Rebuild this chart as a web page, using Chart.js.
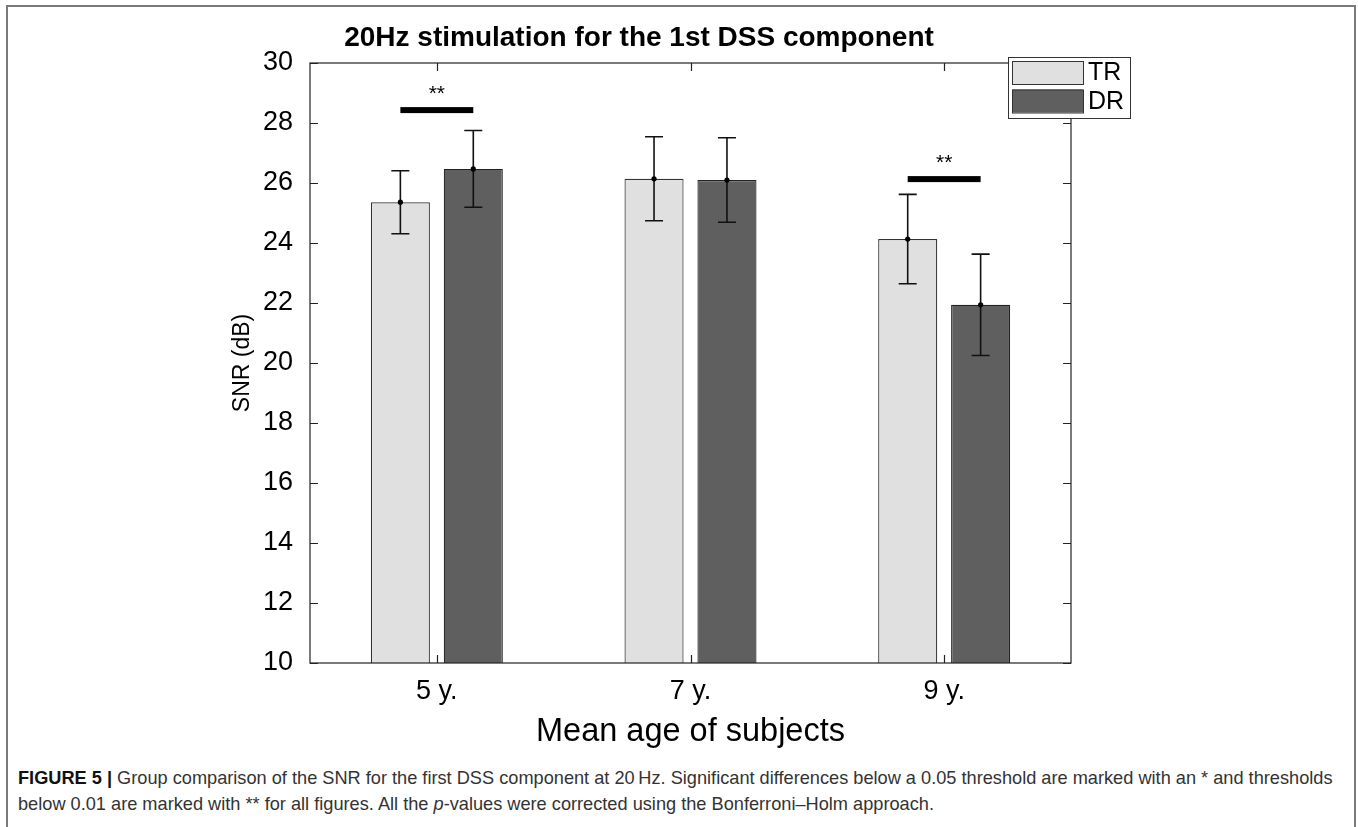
<!DOCTYPE html>
<html lang="en">
<head>
<meta charset="UTF-8">
<title>SNR 20Hz</title>
<script src="https://cdn.jsdelivr.net/npm/chart.js"></script>
<style>
  body { margin: 0; background: #fff; }
  #frame { position: absolute; left: 6px; top: 5px; width: 1346px; height: 840px;
           border: 2px solid #7a7a7a; border-bottom: none; }
  #wrap { position: absolute; left: 0; top: 0; width: 1358px; height: 760px; }
  #caption { position: absolute; left: 18px; top: 765px; font-family: "Liberation Sans", Arial, sans-serif;
             font-size: 18.2px; line-height: 26px; color: #333; white-space: nowrap; }
  #caption b { color: #111; }
</style>
</head>
<body>
<div id="frame"></div>
<div id="wrap"><canvas id="grafico"></canvas></div>
<div id="caption"><b>FIGURE 5 |</b> Group comparison of the SNR for the first DSS component at 20&#8201;Hz. Significant differences below a 0.05 threshold are marked with an * and thresholds<br>below 0.01 are marked with ** for all figures. All the <i>p</i>-values were corrected using the Bonferroni–Holm approach.</div>

<script>
// dados
const categorias = ['5 y.', '7 y.', '9 y.']
const mediaTR = [25.36, 26.14, 24.13]
const mediaDR = [26.47, 26.10, 21.94]
const erroTR = [1.05, 1.40, 1.49]
const erroDR = [1.28, 1.41, 1.69]
const yTicks = [10, 12, 14, 16, 18, 20, 22, 24, 26, 28, 30]
// barras de significancia: indice da categoria, nivel (dB), texto
const sigCategoria = [0, 2]
const sigNivel = [28.43, 26.13]
const sigTexto = ['**', '**']

const fonte = '"Liberation Sans", Arial, Helvetica, sans-serif'

const desenhoExtra = {
  id: 'desenhoExtra',
  afterDatasetsDraw(chart) {
    const ctx = chart.ctx
    const a = chart.chartArea
    const x = chart.scales.x
    const y = chart.scales.y
    ctx.save()

    // barras de erro
    const erros = [erroTR, erroDR]
    chart.data.datasets.forEach((ds, i) => {
      const meta = chart.getDatasetMeta(i)
      meta.data.forEach((bar, j) => {
        const yc = y.getPixelForValue(ds.data[j])
        const yt = y.getPixelForValue(ds.data[j] + erros[i][j])
        const yb = y.getPixelForValue(ds.data[j] - erros[i][j])
        ctx.strokeStyle = '#111'
        ctx.lineWidth = 1.6
        ctx.beginPath()
        ctx.moveTo(bar.x, yt); ctx.lineTo(bar.x, yb)
        ctx.moveTo(bar.x - 9, yt); ctx.lineTo(bar.x + 9, yt)
        ctx.moveTo(bar.x - 9, yb); ctx.lineTo(bar.x + 9, yb)
        ctx.stroke()
        ctx.fillStyle = '#000'
        ctx.beginPath()
        ctx.arc(bar.x, yc, 2.6, 0, Math.PI * 2)
        ctx.fill()
      })
    })

    // significancia
    sigCategoria.forEach((c, k) => {
      const x1 = chart.getDatasetMeta(0).data[c].x
      const x2 = chart.getDatasetMeta(1).data[c].x
      const yy = y.getPixelForValue(sigNivel[k])
      ctx.fillStyle = '#000'
      ctx.fillRect(x1, yy - 3, x2 - x1, 6)
      ctx.font = '21px ' + fonte
      ctx.textAlign = 'center'
      ctx.textBaseline = 'middle'
      ctx.fillText(sigTexto[k], (x1 + x2) / 2, yy - 16)
    })

    // caixa dos eixos e ticks internos
    ctx.strokeStyle = '#222'
    ctx.lineWidth = 1.2
    ctx.strokeRect(a.left, a.top, a.right - a.left, a.bottom - a.top)
    ctx.beginPath()
    yTicks.forEach(v => {
      const yy = Math.round(y.getPixelForValue(v)) + 0.5
      ctx.moveTo(a.left, yy); ctx.lineTo(a.left + 8, yy)
      ctx.moveTo(a.right, yy); ctx.lineTo(a.right - 8, yy)
    })
    categorias.forEach((c, i) => {
      const xx = Math.round(x.getPixelForValue(i)) + 0.5
      ctx.moveTo(xx, a.bottom); ctx.lineTo(xx, a.bottom - 8)
      ctx.moveTo(xx, a.top); ctx.lineTo(xx, a.top + 8)
    })
    ctx.stroke()

    // legenda
    const lx = 1008, ly = 57
    ctx.fillStyle = '#fff'
    ctx.fillRect(lx, ly, 122, 61)
    ctx.strokeStyle = '#333'
    ctx.lineWidth = 1
    ctx.strokeRect(lx + 0.5, ly + 0.5, 122, 61)
    chart.data.datasets.forEach((ds, i) => {
      const sy = ly + 4 + i * 28.5
      ctx.fillStyle = ds.backgroundColor
      ctx.fillRect(lx + 4, sy, 71, 23)
      ctx.strokeStyle = '#333'
      ctx.strokeRect(lx + 4.5, sy + 0.5, 71, 23)
      ctx.fillStyle = '#000'
      ctx.font = '25px ' + fonte
      ctx.textAlign = 'left'
      ctx.textBaseline = 'middle'
      ctx.fillText(ds.label, lx + 80, sy + 12.5)
    })

    // titulo
    ctx.fillStyle = '#000'
    ctx.font = 'bold 28px ' + fonte
    ctx.textAlign = 'center'
    ctx.textBaseline = 'middle'
    ctx.fillText('20Hz stimulation for the 1st DSS component', 639, 38)
    ctx.restore()
  }
}

const ctx = document.getElementById('grafico')

let grafico = new Chart(ctx, {
  type: 'bar',
  data: {
    labels: categorias,
    datasets: [
      { label: 'TR', data: mediaTR, backgroundColor: '#e0e0e0', borderColor: '#333', borderWidth: 1.2, base: 10,
        categoryPercentage: 0.575, barPercentage: 0.81 },
      { label: 'DR', data: mediaDR, backgroundColor: '#5f5f5f', borderColor: '#222', borderWidth: 1.2, base: 10,
        categoryPercentage: 0.575, barPercentage: 0.81 }
    ]
  },
  plugins: [desenhoExtra],
  options: {
    responsive: true,
    maintainAspectRatio: false,
    animation: false,
    layout: { padding: { top: 63, right: 287, left: 0, bottom: 0 } },
    plugins: { legend: { display: false }, tooltip: { enabled: false } },
    scales: {
      x: {
        grid: { display: false, drawTicks: false },
        border: { display: false },
        ticks: { color: '#000', padding: 12, font: { family: fonte, size: 27 } },
        title: { display: true, text: 'Mean age of subjects', color: '#000',
                 font: { family: fonte, size: 32.5 }, padding: { top: 0, bottom: 8.5 } },
        afterFit(s) { s.height = 97 }
      },
      y: {
        min: 10, max: 30,
        grid: { display: false, drawTicks: false },
        border: { display: false },
        afterBuildTicks(s) { s.ticks = yTicks.map(v => ({ value: v })) },
        ticks: { color: '#000', padding: 17, font: { family: fonte, size: 27 } },
        title: { display: true, text: 'SNR (dB)', color: '#000',
                 font: { family: fonte, size: 23 }, padding: { top: 229, bottom: 0 } },
        afterFit(s) { s.width = 310 }
      }
    }
  }
})
</script>
</body>
</html>
